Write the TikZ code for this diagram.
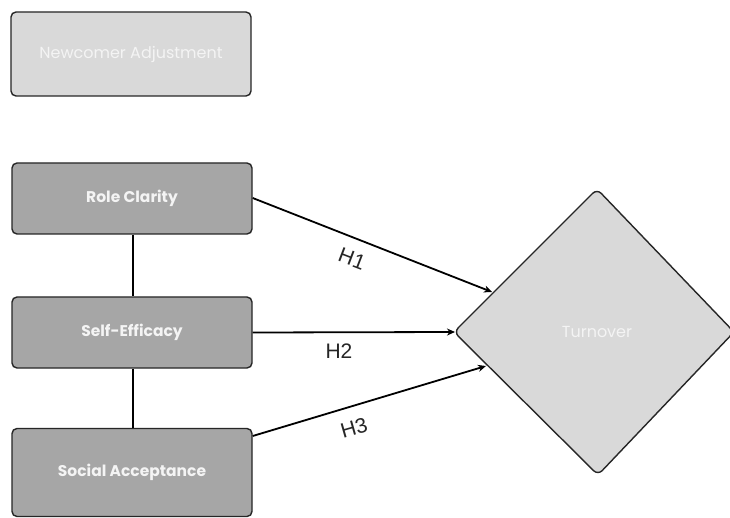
\documentclass[tikz,border=0pt]{standalone}
\usepackage{fontspec}
\setmainfont{Poppins}
\newfontfamily\hfont{Liberation Sans}
\usetikzlibrary{arrows.meta}
\definecolor{lightbox}{HTML}{D9D9D9}
\definecolor{darkbox}{HTML}{A6A6A6}
\definecolor{boxtext}{HTML}{F4F4F4}
\begin{document}
\begin{tikzpicture}[x=1pt,y=-1pt,
  conbox/.style={draw=black!85, line width=1.4pt, rounded corners=5pt, minimum width=240pt, text=boxtext, font=\fontsize{15.5}{17}\selectfont\bfseries, inner sep=0pt},
  arr/.style={-{Stealth[length=8pt,width=7pt,inset=2.5pt]}, line width=1.8pt, black},
  hlab/.style={font=\hfont\fontsize{21}{23}\selectfont, text=black!85}]
\useasboundingbox (0,0) rectangle (730,518);
\fill[white] (0,0) rectangle (730,518);
\node[conbox, fill=lightbox, minimum height=84pt, font=\fontsize{16}{18}\selectfont] (na) at (131,54) {Newcomer Adjustment};
\node[conbox, fill=darkbox, minimum height=71pt] (rc) at (132,198.5) {Role Clarity};
\node[conbox, fill=darkbox, minimum height=71pt] (se) at (132,332.5) {Self-Efficacy};
\node[conbox, fill=darkbox, minimum height=88pt] (sa) at (132,472.5) {Social Acceptance};
\filldraw[fill=lightbox, draw=black!85, line width=1.4pt, rounded corners=6pt]
  (597,189) -- (734,332) -- (598,475) -- (454,332) -- cycle;
\node[text=boxtext, font=\fontsize{16}{18}\selectfont] (tu) at (597,332) {Turnover};
\coordinate (t1) at (492,292);
\coordinate (t2) at (455,332);
\coordinate (t3) at (486,366);
\draw[line width=1.8pt] (rc.south -| 133,0) -- (se.north -| 133,0);
\draw[line width=1.8pt] (se.south -| 133,0) -- (sa.north -| 133,0);
\draw[arr] (rc.east |- 0,198) -- (t1);
\draw[arr] (se.east) -- (t2);
\draw[arr] (sa.east |- 0,436) -- (t3);
\node[hlab, rotate=-21] (h1) at (352,259) {H1};
\node[hlab] (h2) at (339,351) {H2};
\node[hlab, rotate=16] (h3) at (354,428) {H3};
\end{tikzpicture}
\end{document}
